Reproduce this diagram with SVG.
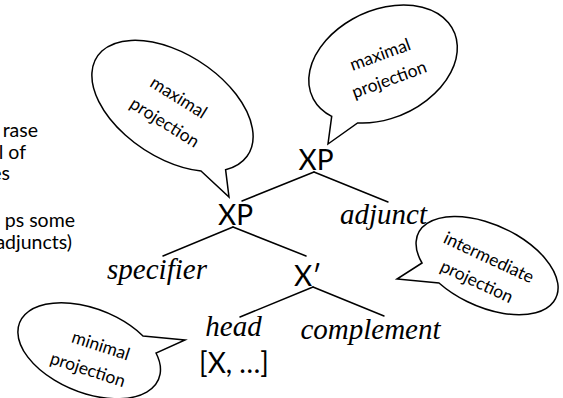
<svg xmlns="http://www.w3.org/2000/svg" width="563" height="398" viewBox="0 0 563 398">
<style>
.bg{fill:#fff}
.edge{stroke:#000;stroke-width:1.5;fill:none;stroke-linecap:round}
.bubble{fill:#fff;stroke:#000;stroke-width:1.5;stroke-linejoin:miter}
.cat{font-family:Lato,"Liberation Sans",sans-serif;font-size:28px;fill:#000}
.role{font-family:"Liberation Serif",serif;font-style:italic;font-size:29px;fill:#000;text-anchor:middle}
.btxt{font-family:Lato,"Liberation Sans",sans-serif;font-size:17.5px;fill:#000;text-anchor:middle;dominant-baseline:central}
.side{font-family:Lato,"Liberation Sans",sans-serif;font-size:19.5px;fill:#000;text-anchor:end}
</style>
<rect class="bg" x="0" y="0" width="563" height="398"/>

<g id="side-text">
<text class="side" x="38" y="137">rase</text>
<text class="side" x="26" y="158.5">l of</text>
<text class="side" x="10" y="180">es</text>
<text class="side" x="75" y="227">ps some</text>
<text class="side" x="72" y="248.5">adjuncts)</text>
</g>

<g id="connectors">
<line class="edge" x1="314" y1="172" x2="242" y2="201"/>
<line class="edge" x1="314" y1="172" x2="388" y2="202"/>
<line class="edge" x1="233" y1="227" x2="163" y2="256"/>
<line class="edge" x1="233" y1="227" x2="306" y2="256"/>
<line class="edge" x1="313" y1="287" x2="240" y2="317"/>
<line class="edge" x1="313" y1="287" x2="384" y2="316"/>
</g>

<g id="node-xp-top">
<text class="cat" x="316" y="170" text-anchor="middle">XP</text>
</g>
<g id="node-xp">
<text class="cat" x="235.5" y="225" text-anchor="middle">XP</text>
</g>
<g id="node-adjunct">
<text class="role" x="383.5" y="224">adjunct</text>
</g>
<g id="node-specifier">
<text class="role" x="157" y="279">specifier</text>
</g>
<g id="node-xbar">
<text class="cat" x="294" y="286">X′</text>
</g>
<g id="node-head">
<text class="role" x="233.5" y="336">head</text>
</g>
<g id="node-complement">
<text class="role" x="370.5" y="339">complement</text>
</g>
<g id="node-features">
<text class="cat" x="234" y="373" text-anchor="middle">[X, …]</text>
</g>

<g id="bubble-max-left">
<path class="bubble" d="M201,171 L229,197 L225.6,169.7 A90 52 33 1 0 201,171 Z"/>
<text class="btxt" transform="translate(179,97) rotate(32)">maximal</text>
<text class="btxt" transform="translate(165,122) rotate(32)">projection</text>
</g>

<g id="bubble-max-right">
<path class="bubble" d="M331.7,116.3 L328,144 L357.6,122.9 A78 54 -25 1 0 331.7,116.3 Z"/>
<text class="btxt" transform="translate(380,54) rotate(-20)">maximal</text>
<text class="btxt" transform="translate(389,79) rotate(-20)">projection</text>
</g>

<g id="bubble-intermediate">
<path class="bubble" d="M422,263 L397,279 L439,283 A76 41 25 1 0 422,263 Z"/>
<text class="btxt" transform="translate(489,257) rotate(25)">intermediate</text>
<text class="btxt" transform="translate(477,281) rotate(25)">projection</text>
</g>

<g id="bubble-minimal">
<path class="bubble" d="M143,336 L185,340 L156,353 A75 42 22 1 1 143,336 Z"/>
<text class="btxt" transform="translate(101,345) rotate(18)">minimal</text>
<text class="btxt" transform="translate(88,369) rotate(18)">projection</text>
</g>
</svg>
